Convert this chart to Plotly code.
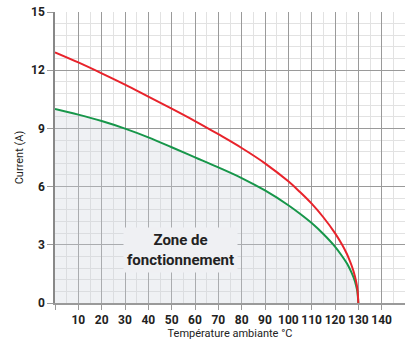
import plotly.graph_objects as go

# Derating curves: current vs ambient temperature
temp_red = [0, 10, 20, 30, 40, 50, 60, 70, 80, 90, 100, 105, 110, 115, 120, 123, 125, 126, 127, 128, 129, 129.6, 130]
current_red = [12.92, 12.4, 11.84, 11.26, 10.64, 10.02, 9.38, 8.7, 7.99, 7.2, 6.27, 5.72, 5.12, 4.42, 3.6, 3.01, 2.55, 2.28, 1.97, 1.61, 1.14, 0.72, 0.0]

temp_green = [0, 10, 20, 30, 40, 50, 60, 70, 80, 90, 100, 105, 110, 115, 120, 123, 125, 126, 127, 128, 129, 129.6, 130]
current_green = [10.0, 9.71, 9.38, 8.99, 8.54, 8.03, 7.51, 6.99, 6.44, 5.8, 5.04, 4.6, 4.12, 3.56, 2.91, 2.42, 2.06, 1.84, 1.59, 1.3, 0.92, 0.58, 0.0]

x_ticks = list(range(0, 151, 10))
x_labels = ["" if v in (0, 150) else str(v) for v in x_ticks]
y_ticks = [0, 3, 6, 9, 12, 15]

zone_label = "Zone de<br>fonctionnement"
zone_pos = (53.7, 2.74)

NARROW = "Liberation Sans Narrow, Arial Narrow, Roboto, sans-serif"
MAJOR = "#9a9a9a"
MINOR = "#e2e2e2"
LINE_SHAPE = dict(shape="spline", smoothing=1.0)

fig = go.Figure()

# operating zone under the lower curve
fig.add_trace(go.Scatter(
    x=temp_green, y=current_green, mode="lines",
    line=dict(width=0, **LINE_SHAPE),
    fill="tozeroy", fillcolor="rgba(205,210,222,0.32)",
    hoverinfo="skip", showlegend=False,
))
fig.add_trace(go.Scatter(
    x=temp_green, y=current_green, mode="lines",
    line=dict(color="#17964a", width=2, **LINE_SHAPE),
    showlegend=False,
))
fig.add_trace(go.Scatter(
    x=temp_red, y=current_red, mode="lines",
    line=dict(color="#e8232b", width=2, **LINE_SHAPE),
    showlegend=False,
))

fig.add_annotation(
    x=zone_pos[0], y=zone_pos[1], text=f"<b>{zone_label}</b>",
    showarrow=False, font=dict(family=NARROW, size=15, color="#222222"),
    bgcolor="#eff0f3", borderpad=3, align="center",
)

fig.update_xaxes(
    range=[0, 150], tickmode="array", tickvals=x_ticks, ticktext=x_labels,
    showgrid=True, gridcolor=MAJOR, gridwidth=1,
    ticks="outside", ticklen=5, tickcolor=MAJOR,
    minor=dict(tickmode="linear", tick0=0, dtick=5, showgrid=True, gridcolor=MINOR, gridwidth=1),
    showline=True, linecolor=MAJOR, linewidth=1.5,
    zeroline=False, automargin=False,
    tickfont=dict(family=NARROW, size=12, color="#222222", weight="bold"),
    title=dict(text="Température ambiante °C", font=dict(family=NARROW, size=11, color="#222222")),
)
fig.update_yaxes(
    range=[0, 15], tickmode="array", tickvals=y_ticks,
    showgrid=True, gridcolor=MAJOR, gridwidth=1,
    ticks="outside", ticklen=6, tickcolor=MAJOR,
    minor=dict(tickmode="linear", tick0=0, dtick=0.6, showgrid=True, gridcolor=MINOR, gridwidth=1),
    showline=True, linecolor="#888888", linewidth=1.5,
    zeroline=False, automargin=False,
    tickfont=dict(family=NARROW, size=12, color="#222222", weight="bold"),
    title=dict(text="Current (A)", font=dict(family=NARROW, size=11, color="#222222"), standoff=5),
)

fig.update_layout(
    width=405, height=340,
    margin=dict(l=55, r=0, t=12, b=37),
    plot_bgcolor="white", paper_bgcolor="white",
)

fig.write_html("out.html")
